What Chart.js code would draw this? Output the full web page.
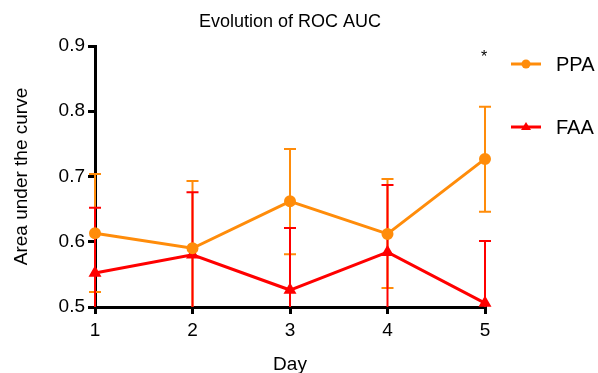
<!DOCTYPE html>
<html>
<head>
<meta charset="utf-8">
<script src="https://cdn.jsdelivr.net/npm/chart.js@4"></script>
<style>
  body { margin: 0; background: #fff; }
  #wrap { width: 598px; height: 373px; }
</style>
</head>
<body>
<div id="wrap"><canvas id="rocchart"></canvas></div>
<script>
// 가로축 (일)
const days = ['1', '2', '3', '4', '5'];
// PPA 평균 / 오차 범위
const ppaValues = [0.613, 0.590, 0.662, 0.612, 0.727];
const ppaUpper  = [0.704, 0.693, 0.742, 0.696, 0.807];
const ppaLower  = [0.523, 0.487, 0.581, 0.529, 0.646];
// FAA 평균 / 오차 범위
const faaValues = [0.552, 0.580, 0.526, 0.584, 0.506];
const faaUpper  = [0.652, 0.676, 0.621, 0.687, 0.601];
const faaLower  = [0.452, 0.484, 0.431, 0.481, 0.411];
// 세로축 눈금
const yTicks = [0.5, 0.6, 0.7, 0.8, 0.9];

const orange = '#FF8C0A';
const red = '#FF0000';
const font = "'Liberation Sans', Arial, sans-serif";

// 오차 막대 그리기 + 제목, 범례
const errorBars = {
    id: 'errorBars',
    beforeDatasetsDraw(chart) {
        const ctx = chart.ctx;
        const area = chart.chartArea;
        const x = chart.scales.x, y = chart.scales.y;
        ctx.save();
        ctx.beginPath();
        ctx.rect(area.left - 10, area.top - 10, area.width + 20, area.bottom - area.top + 10);
        ctx.clip();
        chart.data.datasets.forEach(ds => {
            ctx.strokeStyle = ds.borderColor;
            ctx.lineWidth = 2;
            ds.data.forEach((v, i) => {
                const px = x.getPixelForValue(i);
                const top = y.getPixelForValue(ds.upper[i]);
                const bot = y.getPixelForValue(Math.max(ds.lower[i], 0.5));
                ctx.beginPath();
                ctx.moveTo(px, top); ctx.lineTo(px, bot);
                ctx.moveTo(px - 6, top); ctx.lineTo(px + 6, top);
                if (ds.lower[i] >= 0.5) {
                    ctx.moveTo(px - 6, bot); ctx.lineTo(px + 6, bot);
                }
                ctx.stroke();
            });
        });
        ctx.restore();
    },
    afterDraw(chart) {
        const ctx = chart.ctx;
        ctx.save();
        // 제목
        ctx.fillStyle = '#000';
        ctx.font = '18px ' + font;
        ctx.textAlign = 'center';
        ctx.textBaseline = 'middle';
        ctx.fillText('Evolution of ROC AUC', 290, 22);
        // 별표
        ctx.font = '16px ' + font;
        ctx.fillText('*', 484, 58);
        // 범례
        const items = [
            { label: 'PPA', color: orange, y: 64, style: 'circle' },
            { label: 'FAA', color: red, y: 127, style: 'triangle' }
        ];
        items.forEach(it => {
            ctx.strokeStyle = it.color;
            ctx.fillStyle = it.color;
            ctx.lineWidth = 3;
            ctx.beginPath();
            ctx.moveTo(511, it.y); ctx.lineTo(541, it.y);
            ctx.stroke();
            ctx.beginPath();
            if (it.style === 'circle') {
                ctx.arc(526, it.y, 4.5, 0, Math.PI * 2);
            } else {
                ctx.moveTo(526, it.y - 5); ctx.lineTo(531, it.y + 3); ctx.lineTo(521, it.y + 3);
                ctx.closePath();
            }
            ctx.fill();
            ctx.fillStyle = '#000';
            ctx.font = '20px ' + font;
            ctx.textAlign = 'left';
            ctx.fillText(it.label, 556, it.y + 1);
        });
        ctx.restore();
    }
};

const data = {
    labels: days,
    datasets: [{
        label: 'PPA',
        data: ppaValues,
        upper: ppaUpper,
        lower: ppaLower,
        borderColor: orange,
        backgroundColor: orange,
        pointStyle: 'circle',
        pointRadius: 4.5,
        borderWidth: 3,
        clip: 10
    }, {
        label: 'FAA',
        data: faaValues,
        upper: faaUpper,
        lower: faaLower,
        borderColor: red,
        backgroundColor: red,
        pointStyle: 'triangle',
        pointRadius: 4.5,
        borderWidth: 3,
        clip: 10
    }]
};

const config = {
    type: 'line',
    data: data,
    options: {
        responsive: true,
        maintainAspectRatio: false,
        animation: false,
        layout: { padding: { top: 46, right: 113, left: 6, bottom: 0 } },
        plugins: {
            legend: { display: false },
            title: { display: false },
            tooltip: { enabled: false }
        },
        scales: {
            x: {
                offset: false,
                border: { color: '#000', width: 3 },
                grid: { drawOnChartArea: false, color: '#000', lineWidth: 3, tickLength: 7 },
                ticks: { color: '#000', font: { family: font, size: 19 }, padding: 5 },
                title: { display: true, text: 'Day', color: '#000', font: { family: font, size: 19 }, padding: { top: 4, bottom: -3 } },
                afterFit(s) { s.height = 66; }
            },
            y: {
                min: 0.5,
                max: 0.9,
                border: { color: '#000', width: 3 },
                grid: { drawOnChartArea: false, color: '#000', lineWidth: 3, tickLength: 7 },
                afterBuildTicks(s) { s.ticks = yTicks.map(v => ({ value: v })); },
                ticks: {
                    color: '#000',
                    font: { family: font, size: 19 },
                    padding: 3,
                    callback: v => v.toFixed(1)
                },
                title: { display: true, text: 'Area under the curve', color: '#000', font: { family: font, size: 19 }, padding: { bottom: 6 } },
                afterFit(s) { s.width = 89; }
            }
        }
    },
    plugins: [errorBars]
};

const rocChart = new Chart(document.getElementById('rocchart'), config);
</script>
</body>
</html>
